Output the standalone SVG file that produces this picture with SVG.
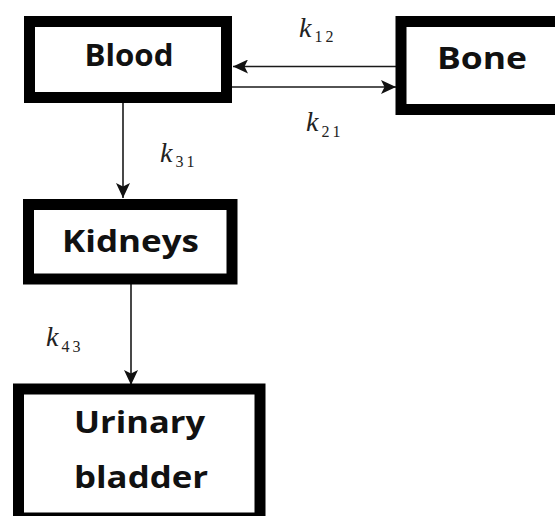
<svg xmlns="http://www.w3.org/2000/svg" width="555" height="516" viewBox="0 0 555 516">
<style>
.box{fill:#fff;stroke:#000;stroke-width:11}
.lbl{font-family:"Open Sans","DejaVu Sans",sans-serif;font-weight:bold;font-size:30px;fill:#111;text-anchor:middle}
.conn{stroke:#1a1a1a;stroke-width:1.6;fill:none}
.k{font-family:"Liberation Serif","DejaVu Serif",serif;font-style:italic;font-size:28px;fill:#222}
.sub{font-style:normal;font-size:16px;letter-spacing:3px}
</style>
<defs>
<marker id="arr" markerUnits="userSpaceOnUse" markerWidth="16" markerHeight="14" refX="15" refY="7" orient="auto">
<path d="M0,0 L15,7 L0,14 L3.5,7 Z" fill="#111"/>
</marker>
</defs>
<rect width="555" height="516" fill="#fff"/>
<g id="connectors">
<line class="conn" x1="396" y1="66.5" x2="233" y2="66.5" marker-end="url(#arr)"/>
<line class="conn" x1="232" y1="87" x2="396" y2="87" marker-end="url(#arr)"/>
<line class="conn" x1="123" y1="103" x2="123" y2="198" marker-end="url(#arr)"/>
<line class="conn" x1="131" y1="284" x2="131" y2="385" marker-end="url(#arr)"/>
</g>
<g id="blood">
<rect class="box" x="29.5" y="21.5" width="197" height="76"/>
<text class="lbl" x="129" y="66" textLength="89" lengthAdjust="spacingAndGlyphs">Blood</text>
</g>
<g id="bone">
<rect class="box" x="401" y="21.5" width="190" height="88"/>
<text class="lbl" x="482" y="69" textLength="90" lengthAdjust="spacingAndGlyphs">Bone</text>
</g>
<g id="kidneys">
<rect class="box" x="28.5" y="204.5" width="203.5" height="74.5"/>
<text class="lbl" x="130.5" y="252" textLength="137" lengthAdjust="spacingAndGlyphs">Kidneys</text>
</g>
<g id="bladder">
<rect class="box" x="18.5" y="389" width="241.5" height="129"/>
<text class="lbl" x="139.5" y="433" textLength="131" lengthAdjust="spacingAndGlyphs">Urinary</text>
<text class="lbl" x="141" y="488" textLength="134" lengthAdjust="spacingAndGlyphs">bladder</text>
</g>
<g id="labels">
<text class="k" x="299" y="37">k<tspan class="sub" dx="3" dy="5">12</tspan></text>
<text class="k" x="306" y="131">k<tspan class="sub" dx="3" dy="6">21</tspan></text>
<text class="k" x="160" y="162">k<tspan class="sub" dx="3" dy="5">31</tspan></text>
<text class="k" x="46" y="346">k<tspan class="sub" dx="3" dy="6">43</tspan></text>
</g>
</svg>
